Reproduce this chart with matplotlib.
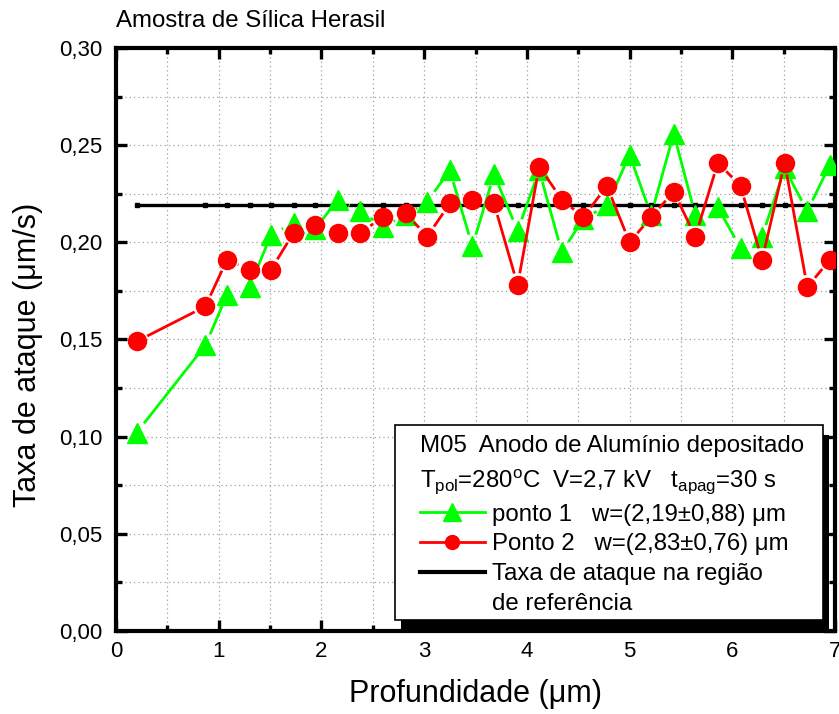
import numpy as np
import matplotlib
matplotlib.use('Agg')
import matplotlib.pyplot as plt
from matplotlib.collections import LineCollection
from matplotlib.lines import Line2D
from matplotlib.patches import Rectangle
from matplotlib.ticker import MultipleLocator

plt.rcParams['font.family'] = ['Liberation Sans', 'DejaVu Sans']
plt.rcParams['mathtext.fontset'] = 'custom'
plt.rcParams['mathtext.rm'] = 'Liberation Sans'
plt.rcParams['mathtext.it'] = 'Liberation Sans'

# profundidade (um)
depth = [0.20, 0.87, 1.08, 1.30, 1.51, 1.73, 1.94, 2.16, 2.38, 2.60,
         2.82, 3.03, 3.25, 3.47, 3.68, 3.91, 4.12, 4.34, 4.55, 4.78,
         5.00, 5.21, 5.43, 5.64, 5.86, 6.08, 6.29, 6.51, 6.73, 6.95]
# taxa de ataque (um/s)
ponto1 = [0.102, 0.147, 0.173, 0.177, 0.204, 0.210, 0.207, 0.222, 0.216, 0.208,
          0.214, 0.221, 0.237, 0.198, 0.235, 0.206, 0.237, 0.195, 0.212, 0.219,
          0.245, 0.214, 0.256, 0.214, 0.218, 0.197, 0.203, 0.238, 0.216, 0.240]
ponto2 = [0.149, 0.167, 0.191, 0.186, 0.186, 0.205, 0.209, 0.205, 0.205, 0.213,
          0.215, 0.203, 0.220, 0.222, 0.220, 0.178, 0.239, 0.222, 0.213, 0.229,
          0.200, 0.213, 0.226, 0.203, 0.241, 0.229, 0.191, 0.241, 0.177, 0.191]
taxa_ref = 0.219

labels = ['ponto 1   w=(2,19±0,88) μm',
          'Ponto 2   w=(2,83±0,76) μm',
          'Taxa de ataque na região',
          'de referência']
title_leg = ('M05  Anodo de Alumínio depositado\n'
             'T$_{pol}$=280$^{o}$C  V=2,7 kV   t$_{apag}$=30 s')

GREEN = '#00ff00'
RED = '#ff0000'

fig = plt.figure(figsize=(8.39, 7.14), dpi=100)
ax = fig.add_axes([116/839, 1-631/714, 719/839, 583/714])
ax.set_xlim(0, 7)
ax.set_ylim(0, 0.30)


def gapped(x, y, gap):
    # line segments that stop short of the symbols (Origin style)
    pts = ax.transData.transform(np.column_stack([x, y]))
    inv = ax.transData.inverted()
    segs = []
    for p0, p1 in zip(pts[:-1], pts[1:]):
        d = p1 - p0
        L = np.hypot(*d)
        if L <= 2 * gap:
            continue
        u = d / L
        segs.append(inv.transform([p0 + u * gap, p1 - u * gap]))
    return segs


# linha de referencia
ax.plot(depth + [7.3], [taxa_ref] * (len(depth) + 1), color='black', lw=2.4,
        marker='s', ms=3, zorder=2)

ax.add_collection(LineCollection(gapped(depth, ponto1, 12), colors=GREEN, linewidths=2, zorder=3))
ax.plot(depth, ponto1, ls='none', marker='^', ms=14, color=GREEN, mec=GREEN, zorder=3)
ax.add_collection(LineCollection(gapped(depth, ponto2, 12), colors=RED, linewidths=2, zorder=4))
ax.plot(depth, ponto2, ls='none', marker='o', ms=13, color=RED, mec=RED, zorder=4)

ax.xaxis.set_major_locator(MultipleLocator(1))
ax.xaxis.set_minor_locator(MultipleLocator(0.5))
ax.yaxis.set_major_locator(MultipleLocator(0.05))
ax.yaxis.set_minor_locator(MultipleLocator(0.025))
ax.yaxis.set_major_formatter(plt.FuncFormatter(lambda v, p: f'{v:.2f}'.replace('.', ',')))

ax.grid(True, which='both', color='#a0a0a0', ls=(0, (1, 2.5)), lw=0.9, zorder=0)
for s in ax.spines.values():
    s.set_linewidth(3)
ax.tick_params(which='both', direction='in', top=True, right=True, labelsize=16)
ax.tick_params(which='major', length=8, width=2.4)
ax.tick_params(which='minor', length=4, width=2.4)
ax.tick_params(axis='y', pad=10)
ax.tick_params(axis='x', pad=7)

ax.set_xlabel('Profundidade (μm)', fontsize=22)
ax.set_ylabel('Taxa de ataque (μm/s)', fontsize=22)
ax.xaxis.set_label_coords(0.5, -0.082)
ax.yaxis.set_label_coords(-0.102, 0.473)
ax.set_title('Amostra de Sílica Herasil', fontsize=17.3, loc='left', pad=15)

# caixa da legenda com sombra
ax.add_patch(Rectangle((0.396, 0.003), 0.595, 0.334, transform=ax.transAxes,
                       facecolor='black', edgecolor='none', zorder=5))
ax.add_patch(Rectangle((0.388, 0.019), 0.595, 0.334, transform=ax.transAxes,
                       facecolor='white', edgecolor='black', lw=1.2, zorder=5.5))

handles = [Line2D([], [], color=GREEN, lw=2, marker='^', ms=13),
           Line2D([], [], color=RED, lw=2, marker='o', ms=10),
           Line2D([], [], color='black', lw=3),
           Line2D([], [], ls='none')]
leg = ax.legend(handles, labels, title=title_leg, loc='upper left',
                bbox_to_anchor=(0.4228, 0.337),
                fontsize=17.3, title_fontsize=17.3, alignment='left',
                frameon=False, handlelength=2.7, handletextpad=0.3,
                labelspacing=0.32, borderpad=0, borderaxespad=0)
leg.get_title().set_linespacing(1.55)
leg.set_zorder(6)

fig.savefig('out.png', dpi=100)
